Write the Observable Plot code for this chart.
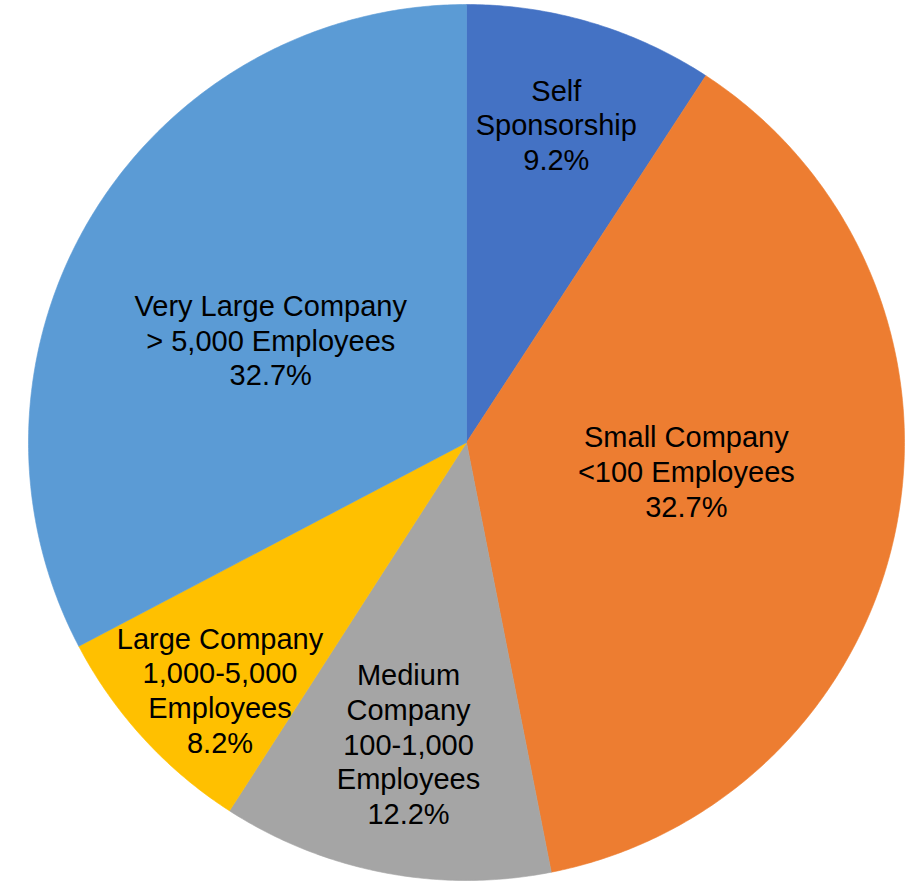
<!DOCTYPE html>
<html>
<head>
<meta charset="utf-8">
<script src="https://cdn.jsdelivr.net/npm/d3@7"></script>
<script src="https://cdn.jsdelivr.net/npm/@observablehq/plot@0.6"></script>
<style>
  html, body { margin: 0; padding: 0; background: #fff; }
  #chart { width: 907px; height: 881px; }
</style>
</head>
<body>
<div id="chart"></div>
<script>
// ---- data ----
const categories = [
  "Self Sponsorship",
  "Small Company <100 Employees",
  "Medium Company 100-1,000 Employees",
  "Large Company 1,000-5,000 Employees",
  "Very Large Company > 5,000 Employees"
];
// slice sizes (percent)
const values = [9.2, 37.7, 12.2, 8.2, 32.7];
// label text exactly as printed on the chart
const labelLines = [
  ["Self", "Sponsorship", "9.2%"],
  ["Small Company", "<100 Employees", "32.7%"],
  ["Medium", "Company", "100-1,000", "Employees", "12.2%"],
  ["Large Company", "1,000-5,000", "Employees", "8.2%"],
  ["Very Large Company", "> 5,000 Employees", "32.7%"]
];
const colors = ["#4472C4", "#ED7D31", "#A5A5A5", "#FFC000", "#5B9BD5"];

// ---- layout (label placement, polar: angle shift in degrees, radius fraction) ----
const labelAngleShift = [-0.8, -3.7, 0.1, -2.6, -3.4];
const labelRadius = [0.755, 0.506, 0.70, 0.797, 0.505];

// ---- geometry from data ----
const total = d3.sum(values);
let acc = 0;
const slices = values.map((v, i) => {
  const a0 = acc / total * 2 * Math.PI;
  acc += v;
  const a1 = acc / total * 2 * Math.PI;
  return {name: categories[i], a0, a1, i};
});

const ring = [];
for (const s of slices) {
  ring.push({name: s.name, x: 0, y: 0});
  const n = Math.max(2, Math.ceil((s.a1 - s.a0) / (Math.PI / 360)));
  for (let k = 0; k <= n; k++) {
    const a = s.a0 + (s.a1 - s.a0) * k / n;
    ring.push({name: s.name, x: Math.sin(a), y: Math.cos(a)});
  }
  ring.push({name: s.name, x: 0, y: 0});
}

const labels = slices.map(s => {
  const a = (s.a0 + s.a1) / 2 + labelAngleShift[s.i] * Math.PI / 180;
  const r = labelRadius[s.i];
  return {name: s.name, text: labelLines[s.i].join("\n"), x: r * Math.sin(a), y: r * Math.cos(a)};
});

const cx = 466, cy = 442, R = 438;

const chart = Plot.plot({
  width: 907,
  height: 881,
  margin: 0,
  style: {background: "#fff", fontFamily: "'Liberation Sans', Arial, sans-serif"},
  x: {domain: [-1, 1], range: [cx - R, cx + R], axis: null},
  y: {domain: [-1, 1], range: [cy + R, cy - R], axis: null},
  color: {domain: categories, range: colors},
  marks: [
    Plot.line(ring, {x: "x", y: "y", z: "name", fill: "name", stroke: "name", strokeWidth: 0.6, curve: "linear"}),
    Plot.text(labels, {
      x: "x", y: "y", text: "text",
      fontSize: 29, lineHeight: 1.2, fill: "#000",
      textAnchor: "middle", lineAnchor: "middle",
      fontFamily: "'Liberation Sans', Arial, sans-serif"
    })
  ]
});
document.getElementById("chart").appendChild(chart);
</script>
</body>
</html>
